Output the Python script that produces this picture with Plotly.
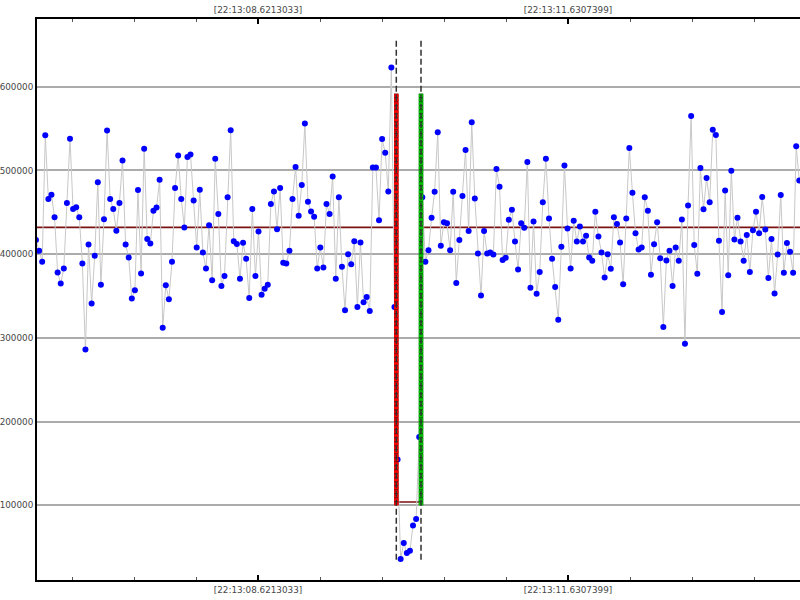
import plotly.graph_objects as go

# ---- data ----
tick_vals = [8.6213033, 11.6307399]
tick_text = ["[22:13:08.6213033]", "[22:13:11.6307399]"]
y_tick_vals = [100000, 200000, 300000, 400000, 500000, 600000]
y_tick_text = ["100000", "200000", "300000", "400000", "500000", "600000"]

t_start = 6.46615      # seconds after 22:13:00
t_step = 0.03          # sampling interval (s)

values_k = [
    417, 404, 391, 542, 466, 471, 444, 378, 365, 383, 461, 538, 454, 456, 444, 389,
    286, 411.5, 341, 398, 486, 363.5, 441.7, 547.6, 466, 454, 428, 461, 512, 411.5,
    396, 347, 357, 476.6, 377, 525.8, 418, 412.7, 452, 455.6, 489, 312,
    363, 346, 391, 479, 518, 466, 432, 516, 519, 464, 408, 477, 402, 383, 434.5,
    368.7, 514, 448, 362, 374, 468, 548, 415.5, 412, 370.6, 413.5, 394.4, 347.6,
    454, 374, 427, 351.6, 358.7, 363.5, 460, 475, 429.8, 479, 389.7,
    388.9, 404, 466, 504, 446, 482.5, 556, 462.7, 451, 444.8, 383, 408, 384, 460,
    448, 492.9, 370.6, 468, 385, 333, 400, 388, 415.5, 337, 414, 342.5, 348.8, 332,
    503.6, 503.6, 440.5, 537.7, 521, 475, 623, 337,
    154.8, 36, 55, 43, 45.7, 76, 83.7, 181.5,
    468, 391, 404.7, 443.5, 474.7, 545.5, 410, 438, 437, 404.7, 474.7, 365.6, 417,
    469.6, 524.5, 427.7, 557.7, 466.4, 400.8, 350.6, 427.7, 400.8, 402, 399.6,
    501.6, 480.6, 392.9, 395.7, 441, 453, 415, 381.8, 437, 431.6, 510, 360, 439,
    352.6, 378.7, 462, 514,
    442.7, 394.5, 360.9, 321.7, 409, 506, 430.8, 383, 440, 415, 433, 415, 422, 396,
    392, 450.6, 421, 402, 372, 400, 382.6, 444, 436, 414, 364, 442.7, 526.9, 473.5,
    425, 405.5, 408, 468, 451.8, 375.5, 411.9, 438, 395, 313, 392.5, 404,
    362, 408, 392, 441.5, 293, 458, 565, 411, 376.7, 502.8, 453.8, 491, 462, 548.6,
    542.3, 416, 330.8, 476, 374.7, 499.6, 417.4, 443.5, 415, 392, 423, 378.7, 428.5,
    450.6, 425, 468.4, 429.6, 371.5, 418, 353, 399.6, 470.8, 377.9, 413.4, 403,
    377.9, 528.9, 488,
]

mean_value = 432000
gap_mean_value = 104000
red_t = 9.9639
green_t = 10.2037
band_low, band_high = 100000, 592000
dash_low, dash_high = 35000, 657000

x_range = [6.4758, 13.8830]
y_range = [10800, 680900]

# ---- derived ----
values = [v * 1000 for v in values_k]
times = [t_start + i * t_step for i in range(len(values))]

fig = go.Figure()

# mean line (steps down between the two markers)
fig.add_trace(go.Scatter(
    x=[x_range[0], red_t, red_t, green_t, green_t, x_range[1]],
    y=[mean_value, mean_value, gap_mean_value, gap_mean_value, mean_value, mean_value],
    mode="lines", line=dict(color="#7a1212", width=1.6),
    hoverinfo="skip", showlegend=False))

# data series
fig.add_trace(go.Scatter(
    x=times, y=values, mode="lines+markers",
    line=dict(color="#c8c8c8", width=1),
    marker=dict(color="#0000ff", size=6, line=dict(width=0)),
    showlegend=False))

# highlighted columns
for t, base, col in [(red_t, "#7a0000", "#ff0000"), (green_t, "#006000", "#00c000")]:
    fig.add_trace(go.Scatter(
        x=[t, t], y=[band_low, band_high], mode="lines",
        line=dict(color=base, width=4.5), hoverinfo="skip", showlegend=False))
    fig.add_trace(go.Scatter(
        x=[t, t], y=[band_low, band_high], mode="lines",
        line=dict(color=col, width=4.5, dash="3px,1px"), hoverinfo="skip", showlegend=False))
    fig.add_trace(go.Scatter(
        x=[t, t], y=[dash_low, dash_high], mode="lines",
        line=dict(color="#303030", width=1.5, dash="6px,3px"), hoverinfo="skip", showlegend=False))

# invisible trace to carry the top axis
fig.add_trace(go.Scatter(x=[tick_vals[0]], y=[mean_value], xaxis="x2", mode="markers",
                         marker=dict(opacity=0), hoverinfo="skip", showlegend=False))

minor_step = (tick_vals[1] - tick_vals[0]) / 5
minor_vals = [tick_vals[0] + k * minor_step for k in range(-4, 10)]

tick_font = dict(family="DejaVu Sans", size=8.8, color="#474747")
xcommon = dict(
    range=x_range, showline=True, linecolor="black", linewidth=2,
    tickmode="array", tickvals=tick_vals, ticktext=tick_text,
    ticks="inside", ticklen=5, tickwidth=2, tickcolor="black",
    minor=dict(tickmode="array", tickvals=minor_vals, ticks="inside", ticklen=3,
               tickwidth=1, tickcolor="#555555", showgrid=False),
    showgrid=False, zeroline=False, tickfont=tick_font, automargin=False,
)

fig.update_layout(
    width=800, height=600,
    margin=dict(l=37, r=0, t=19, b=20, autoexpand=False),
    paper_bgcolor="white", plot_bgcolor="white",
    xaxis=dict(side="bottom", **xcommon),
    xaxis2=dict(overlaying="x", side="top", matches="x", **xcommon),
    yaxis=dict(range=y_range, showline=True, linecolor="black", linewidth=2,
               tickmode="array", tickvals=y_tick_vals, ticktext=y_tick_text,
               ticks="", showgrid=True, gridcolor="#ababab", gridwidth=2,
               zeroline=False, tickfont=tick_font, automargin=False),
    hovermode=False,
)

fig.write_html(
    "out.html",
    config={"displayModeBar": False, "staticPlot": True},
    post_script="document.body.style.margin='0px';document.body.style.overflow='hidden';",
)
